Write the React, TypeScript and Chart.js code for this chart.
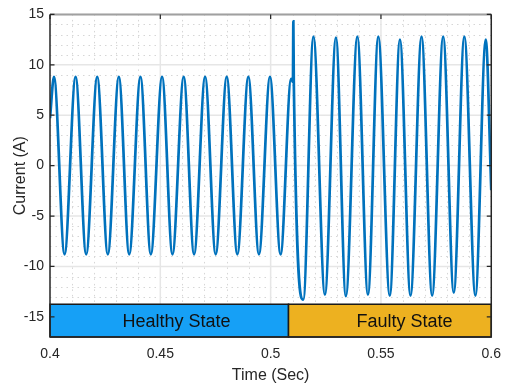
import { useEffect, useRef } from "react";
import { Chart, registerables } from "chart.js";

Chart.register(...registerables);

// Extremum samples of the measured current waveform (time in s, current in A)
const sampleTimes = [
  0.4, 0.4018, 0.4066, 0.4116, 0.4164, 0.4214, 0.4262, 0.4312, 0.4359, 0.441,
  0.4457, 0.4508, 0.4555, 0.4606, 0.4653, 0.4703, 0.4751, 0.4801, 0.4849, 0.4899,
  0.4947, 0.4997, 0.5045, 0.5093, 0.5101, 0.5103, 0.5105, 0.5148, 0.5194, 0.5246,
  0.5296, 0.5341, 0.5393, 0.5441, 0.5488, 0.554, 0.5586, 0.5634, 0.5684, 0.5732,
  0.5782, 0.583, 0.5878, 0.5928, 0.5975, 0.6,
];
const currentValues = [
  4.7, 8.8, -8.8, 8.8, -8.8, 8.8, -8.8, 8.8, -8.8, 8.8,
  -8.8, 8.8, -8.8, 8.8, -8.8, 8.8, -8.8, 8.8, -8.8, 8.8,
  -8.8, 8.8, -8.8, 8.6, 8.3, 14.3, 8.4, -13.3, 12.8, -12.8,
  12.7, -12.95, 12.8, -12.8, 12.8, -12.9, 12.5, -12.9, 12.8, -12.9,
  12.8, -12.6, 12.8, -12.9, 12.5, -2.45,
];

const xTickValues = [0.4, 0.45, 0.5, 0.55, 0.6];
const xTickLabels = ["0.4", "0.45", "0.5", "0.55", "0.6"];
const yTickValues = [-15, -10, -5, 0, 5, 10, 15];
const yTickLabels = ["-15", "-10", "-5", "0", "5", "10", "15"];
const xMinorTicks = [
  0.41, 0.42, 0.43, 0.44, 0.46, 0.47, 0.48, 0.49, 0.51, 0.52, 0.53, 0.54,
  0.56, 0.57, 0.58, 0.59,
];
const yMinorTicks = [
  -16, -14, -13, -12, -11, -9, -8, -7, -6, -4, -3, -2, -1, 1, 2, 3, 4, 6, 7,
  8, 9, 11, 12, 13, 14,
];

const stateLabels = ["Healthy State", "Faulty State"];
const stateStart = [0.4, 0.5081];
const stateEnd = [0.5081, 0.6];
const stateColors = ["#16A0F6", "#EDB120"];
const stateTextX = [0.4573, 0.5607];
const bandTop = -13.75;
const bandBottom = -17;
const bandTextY = -15.5;

const X_MIN = 0.4;
const X_MAX = 0.6;
const Y_MIN = -17;
const Y_MAX = 15;

const FONT = "'Liberation Sans', Arial, Helvetica, sans-serif";

const decorPlugin = {
  id: "decor",
  beforeDatasetsDraw(chart: any) {
    const { ctx, chartArea: a, scales } = chart;
    const x = scales.x;
    const y = scales.y;
    ctx.save();
    // minor dotted grid
    ctx.strokeStyle = "#d6d6d6";
    ctx.lineWidth = 1;
    ctx.setLineDash([1.5, 4]);
    ctx.beginPath();
    for (const v of xMinorTicks) {
      const px = Math.round(x.getPixelForValue(v)) + 0.5;
      ctx.moveTo(px, a.top);
      ctx.lineTo(px, a.bottom);
    }
    for (const v of yMinorTicks) {
      const py = Math.round(y.getPixelForValue(v)) + 0.5;
      ctx.moveTo(a.left, py);
      ctx.lineTo(a.right, py);
    }
    ctx.stroke();
    ctx.setLineDash([]);
    // major grid
    ctx.strokeStyle = "#e6e6e6";
    ctx.lineWidth = 1.5;
    ctx.beginPath();
    for (const v of xTickValues) {
      if (v <= X_MIN || v >= X_MAX) continue;
      const px = x.getPixelForValue(v);
      ctx.moveTo(px, a.top);
      ctx.lineTo(px, a.bottom);
    }
    for (const v of yTickValues) {
      const py = y.getPixelForValue(v);
      ctx.moveTo(a.left, py);
      ctx.lineTo(a.right, py);
    }
    ctx.stroke();
    ctx.restore();
  },
  afterDatasetsDraw(chart: any) {
    const { ctx, chartArea: a, scales } = chart;
    const x = scales.x;
    const y = scales.y;
    ctx.save();
    // state bands
    const yt = y.getPixelForValue(bandTop);
    const yb = y.getPixelForValue(bandBottom);
    for (let i = 0; i < stateLabels.length; i++) {
      const x0 = x.getPixelForValue(stateStart[i]);
      const x1 = x.getPixelForValue(stateEnd[i]);
      ctx.fillStyle = stateColors[i];
      ctx.fillRect(x0, yt, x1 - x0, yb - yt);
      ctx.strokeStyle = "#1a1a1a";
      ctx.lineWidth = 1.5;
      ctx.strokeRect(x0, yt, x1 - x0, yb - yt);
    }
    ctx.fillStyle = "#111111";
    ctx.font = `18px ${FONT}`;
    ctx.textAlign = "center";
    ctx.textBaseline = "middle";
    for (let i = 0; i < stateLabels.length; i++) {
      ctx.fillText(
        stateLabels[i],
        x.getPixelForValue(stateTextX[i]),
        y.getPixelForValue(bandTextY)
      );
    }
    // axes box
    ctx.strokeStyle = "#a0a0a0";
    ctx.lineWidth = 2;
    ctx.beginPath();
    ctx.moveTo(a.left, a.top);
    ctx.lineTo(a.right, a.top);
    ctx.stroke();
    ctx.strokeStyle = "#262626";
    ctx.lineWidth = 1.5;
    ctx.beginPath();
    ctx.moveTo(a.left, a.top);
    ctx.lineTo(a.left, a.bottom);
    ctx.moveTo(a.right, a.top);
    ctx.lineTo(a.right, a.bottom);
    ctx.moveTo(a.left, a.bottom);
    ctx.lineTo(a.right, a.bottom);
    ctx.stroke();
    // inward tick marks
    const tl = 4.5;
    ctx.lineWidth = 1.2;
    ctx.beginPath();
    for (const v of yTickValues) {
      const py = y.getPixelForValue(v);
      ctx.moveTo(a.left, py);
      ctx.lineTo(a.left + tl, py);
      ctx.moveTo(a.right, py);
      ctx.lineTo(a.right - tl, py);
    }
    for (const v of xTickValues) {
      const px = x.getPixelForValue(v);
      ctx.moveTo(px, a.top);
      ctx.lineTo(px, a.top + tl);
    }
    ctx.stroke();
    ctx.restore();
  },
};

export default function App() {
  const canvasRef = useRef<HTMLCanvasElement | null>(null);

  useEffect(() => {
    const canvas = canvasRef.current;
    if (!canvas) return;
    const points = sampleTimes.map((t, i) => ({ x: t, y: currentValues[i] }));
    const chart = new Chart(canvas, {
      type: "line",
      data: {
        datasets: [
          {
            label: "Current",
            data: points,
            borderColor: "#0072BD",
            backgroundColor: "#0072BD",
            borderWidth: 2.7,
            pointRadius: 0,
            cubicInterpolationMode: "monotone",
            fill: false,
          },
        ],
      },
      options: {
        responsive: false,
        animation: false,
        devicePixelRatio: 1,
        layout: { padding: { top: 11, right: 18, left: 0, bottom: 0 } },
        plugins: {
          legend: { display: false },
          tooltip: { enabled: false },
        },
        scales: {
          x: {
            type: "linear",
            min: X_MIN,
            max: X_MAX,
            afterBuildTicks: (s: any) => {
              s.ticks = xTickValues.map((v) => ({ value: v }));
            },
            afterFit: (s: any) => {
              s.height = 54;
            },
            grid: { display: false, drawTicks: false },
            border: { display: false },
            ticks: {
              padding: 9,
              color: "#262626",
              font: { family: FONT, size: 14 },
              maxRotation: 0,
              autoSkip: false,
              callback: (v: any) => {
                const i = xTickValues.findIndex((t) => Math.abs(t - v) < 1e-9);
                return i >= 0 ? xTickLabels[i] : "";
              },
            },
            title: {
              display: true,
              text: "Time (Sec)",
              color: "#262626",
              font: { family: FONT, size: 16 },
              padding: { top: 0, bottom: 6 },
            },
          },
          y: {
            type: "linear",
            min: Y_MIN,
            max: Y_MAX,
            afterBuildTicks: (s: any) => {
              s.ticks = yTickValues.map((v) => ({ value: v }));
            },
            afterFit: (s: any) => {
              s.width = 50;
            },
            grid: { display: false, drawTicks: false },
            border: { display: false },
            ticks: {
              padding: 6,
              color: "#262626",
              font: { family: FONT, size: 14 },
              autoSkip: false,
              callback: (v: any) => {
                const i = yTickValues.findIndex((t) => Math.abs(t - v) < 1e-9);
                return i >= 0 ? yTickLabels[i] : "";
              },
            },
            title: {
              display: true,
              text: "Current (A)",
              color: "#262626",
              font: { family: FONT, size: 16 },
              padding: { top: 11, bottom: 0 },
            },
          },
        },
      },
      plugins: [decorPlugin],
    } as any);
    return () => chart.destroy();
  }, []);

  return (
    <div
      style={{
        position: "absolute",
        left: 0,
        top: 0,
        width: 510,
        height: 391,
        background: "#ffffff",
      }}
    >
      <canvas
        ref={canvasRef}
        width={510}
        height={391}
        style={{ display: "block", width: 510, height: 391 }}
      />
    </div>
  );
}
